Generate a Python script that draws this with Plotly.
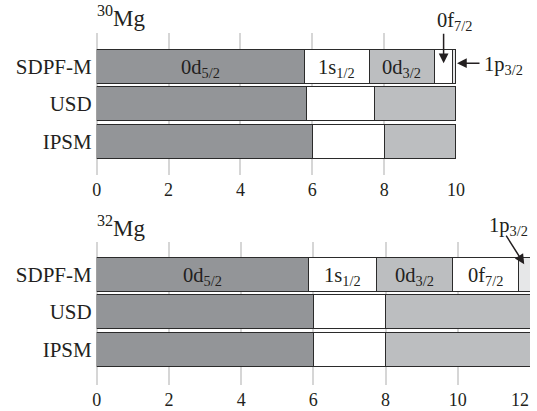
import plotly.graph_objects as go

# ---------------- data ----------------
models = ["SDPF-M", "USD", "IPSM"]
orbitals = ["0d<sub>5/2</sub>", "1s<sub>1/2</sub>", "0d<sub>3/2</sub>", "0f<sub>7/2</sub>", "1p<sub>3/2</sub>"]
colors = ["#939598", "#ffffff", "#bcbec0", "#ffffff", "#e6e7e8"]

mg30_d52 = [5.78, 5.83, 6.0]
mg30_s12 = [1.81, 1.90, 2.0]
mg30_d32 = [1.81, 2.27, 2.0]
mg30_f72 = [0.51, None, None]
mg30_p32 = [0.09, None, None]

mg32_d52 = [5.86, 6.0, 6.0]
mg32_s12 = [1.89, 2.0, 2.0]
mg32_d32 = [2.11, 4.0, 4.0]
mg32_f72 = [1.82, None, None]
mg32_p32 = [0.32, None, None]

x_ticks_30 = [0, 2, 4, 6, 8, 10]
x_ticks_32 = [0, 2, 4, 6, 8, 10, 12]
x_ticktext_32 = ["0", "2", "4", "6", "8", "10", "12"]

FONT = "Liberation Serif, Times New Roman, serif"
INK = "#231f20"
W, H = 537, 411

fig = go.Figure()

panels = [
    ("x", "y", [mg30_d52, mg30_s12, mg30_d32, mg30_f72, mg30_p32]),
    ("x2", "y2", [mg32_d52, mg32_s12, mg32_d32, mg32_f72, mg32_p32]),
]

for xa, ya, series in panels:
    for name, col, vals in zip(orbitals, colors, series):
        fig.add_trace(go.Bar(
            y=models, x=vals, orientation="h", name=name,
            marker=dict(color=col, line=dict(color="#2b2b2b", width=1)),
            xaxis=xa, yaxis=ya, showlegend=False, hoverinfo="skip",
        ))

annotations = []

def seg_mid(series, k, row=0):
    base = sum((s[row] or 0) for s in series[:k])
    return base + (series[k][row] or 0) / 2

def total(series, row=0):
    return sum((s[row] or 0) for s in series)

# in-bar labels on the SDPF-M row
label_idx = {0: [0, 1, 2], 1: [0, 1, 2, 3]}
for p, (xa, ya, series) in enumerate(panels):
    for k in label_idx[p]:
        annotations.append(dict(
            x=seg_mid(series, k), y="SDPF-M", xref=xa, yref=ya,
            text=orbitals[k], showarrow=False,
            font=dict(family=FONT, size=20.5, color=INK),
            xanchor="center", yanchor="middle", yshift=-2,
        ))

s30 = panels[0][2]
s32 = panels[1][2]

# 30Mg: 0f7/2 arrow (down) and 1p3/2 arrow (left)
annotations.append(dict(
    x=seg_mid(s30, 3), y=2.08, xref="x", yref="y", text="",
    showarrow=True, ax=0, ay=-31, arrowhead=2, arrowsize=1.3, arrowwidth=1.5,
    arrowcolor=INK,
))
annotations.append(dict(
    x=seg_mid(s30, 3), y=2.08, xref="x", yref="y", text="0f<sub>7/2</sub>",
    showarrow=False, xanchor="left", yanchor="bottom", xshift=-9, yshift=27,
    font=dict(family=FONT, size=20.5, color=INK),
))
annotations.append(dict(
    x=total(s30), y=2.08, xref="x", yref="y", text="",
    showarrow=True, ax=25, ay=0, arrowhead=2, arrowsize=1.3, arrowwidth=1.5,
    standoff=1, arrowcolor=INK,
))
annotations.append(dict(
    x=total(s30), y=2.08, xref="x", yref="y", text="1p<sub>3/2</sub>",
    showarrow=False, xanchor="left", yanchor="middle", xshift=26, yshift=-2,
    font=dict(family=FONT, size=20.5, color=INK),
))

# 32Mg: 1p3/2 diagonal arrow
annotations.append(dict(
    x=seg_mid(s32, 4), y=2.27, xref="x2", yref="y2", text="",
    showarrow=True, ax=-19, ay=-30, arrowhead=2, arrowsize=1.3, arrowwidth=1.5,
    arrowcolor=INK,
))
annotations.append(dict(
    x=seg_mid(s32, 4), y=2.27, xref="x2", yref="y2", text="1p<sub>3/2</sub>",
    showarrow=False, xanchor="center", yanchor="bottom", xshift=-16, yshift=23,
    font=dict(family=FONT, size=20.5, color=INK),
))

# panel titles
annotations.append(dict(
    x=94.5 / W, y=1 - 33 / H, xref="paper", yref="paper",
    text="<sup>30</sup>Mg", showarrow=False, xanchor="left", yanchor="bottom",
    font=dict(family=FONT, size=23, color=INK),
))
annotations.append(dict(
    x=94.5 / W, y=1 - 243 / H, xref="paper", yref="paper",
    text="<sup>32</sup>Mg", showarrow=False, xanchor="left", yanchor="bottom",
    font=dict(family=FONT, size=23, color=INK),
))

# last tick label of the 32Mg axis, right-aligned on its gridline (as in the reference)
annotations.append(dict(
    x=x_ticks_32[-1], y=0, xref="x2", yref="y2 domain",
    text=x_ticktext_32[-1], showarrow=False, xanchor="right", yanchor="top",
    xshift=1, yshift=-3,
    font=dict(family=FONT, size=18, color=INK),
))

xcommon = dict(
    showgrid=True, gridcolor="#d6d6d6", gridwidth=2,
    zeroline=True, zerolinecolor="#d6d6d6", zerolinewidth=2,
    showline=False, ticks="", tickfont=dict(family=FONT, size=18, color=INK),
    fixedrange=True, ticklabelstandoff=2, automargin=False,
)
ycommon = dict(
    type="category", categoryorder="array", categoryarray=models[::-1],
    showgrid=False, zeroline=False, showline=False, ticks="",
    tickfont=dict(family=FONT, size=21, color=INK), fixedrange=True,
    ticklabelstandoff=4, automargin=False,
)

ticktext_32 = x_ticktext_32[:-1] + [""]

fig.update_layout(
    width=W, height=H,
    margin=dict(l=0, r=0, t=0, b=0),
    paper_bgcolor="white", plot_bgcolor="white",
    barmode="stack", bargap=0.1,
    xaxis=dict(xcommon, domain=[96.7 / W, 456 / W], range=[0, 10],
               tickvals=x_ticks_30, anchor="y"),
    yaxis=dict(ycommon, domain=[1 - 175 / H, 1 - 33 / H], range=[-0.899, 2.885],
               anchor="x"),
    xaxis2=dict(xcommon, domain=[96.7 / W, 530 / W], range=[0, 12],
                tickvals=x_ticks_32, ticktext=ticktext_32, anchor="y2"),
    yaxis2=dict(ycommon, domain=[1 - 385 / H, 1 - 242 / H], range=[-0.956, 2.862],
                anchor="x2"),
    annotations=annotations,
)

fig.write_html("out.html")
